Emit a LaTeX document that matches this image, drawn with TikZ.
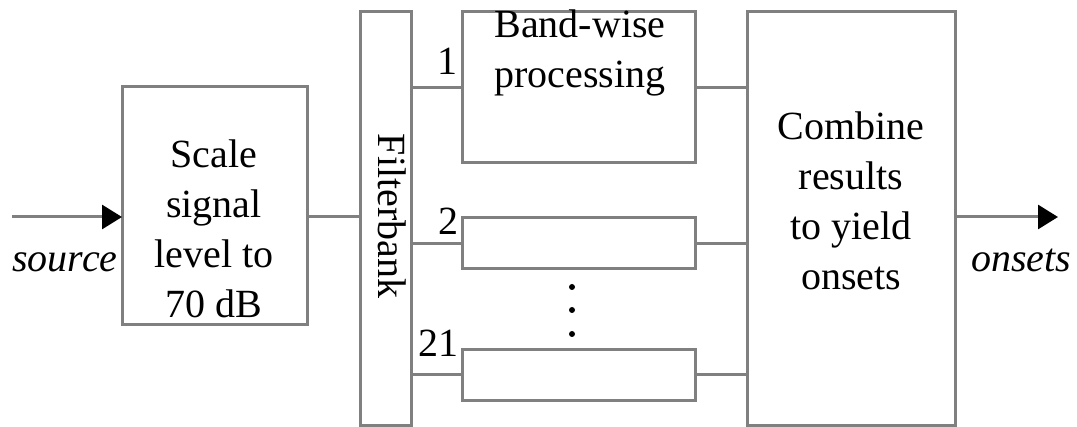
\documentclass[tikz,border=0pt]{standalone}
\usepackage{fontspec}
\setmainfont{Liberation Serif}
\usetikzlibrary{arrows.meta}
\begin{document}
\begin{tikzpicture}[x=1pt,y=-1pt,
  blk/.style={draw=black!50,line width=3pt,rectangle,inner sep=0pt,outer sep=0pt,fill=white},
  wire/.style={draw=black!50,line width=3pt},
  arr/.style={wire,-{Triangle[length=20pt,width=24pt,color=black,fill=black]}},
  txt/.style={font=\fontsize{40pt}{50pt}\selectfont,align=center,inner sep=0pt},
  lbl/.style={font=\fontsize{40pt}{50pt}\selectfont,inner sep=0pt}]
\useasboundingbox (0,0) rectangle (1077,427);
\fill[white] (0,0) rectangle (1077,427);
% boxes
\node[blk,minimum width=185pt,minimum height=238pt] (scale) at (214.5,206) {};
\node[blk,minimum width=51pt,minimum height=414pt] (fb) at (385.5,218.5) {};
\node[blk,minimum width=233pt,minimum height=151pt] (b1) at (579,87.5) {};
\node[blk,minimum width=233pt,minimum height=51pt] (b2) at (579,243.5) {};
\node[blk,minimum width=233pt,minimum height=51pt] (b21) at (579,375) {};
\node[blk,minimum width=208pt,minimum height=414pt] (comb) at (851,218.5) {};
% texts
\node[txt,anchor=base] (tscale) at (214,318) {Scale\\signal\\level to\\70 dB};
\node[txt,anchor=base] (tb1) at (580,88) {Band-wise\\processing};
\node[txt,anchor=base] (tcomb) at (851,290) {Combine\\results\\to yield\\onsets};
\node[lbl,rotate=-90] (tfb) at (392,216) {Filterbank};
\node[lbl,anchor=base east] (l1) at (458,75) {1};
\node[lbl,anchor=base east] (l2) at (459,235) {2};
\node[lbl,anchor=base east] (l21) at (459,357) {21};
\node[lbl,anchor=base,font=\fontsize{40pt}{50pt}\selectfont\itshape] (tsrc) at (65,272) {source};
\node[lbl,anchor=base,font=\fontsize{40pt}{50pt}\selectfont\itshape] (tons) at (1021,272) {onsets};
% dots
\foreach \yy [count=\i] in {287,310,334} \fill[black] (572,\yy) circle (3pt) coordinate (d\i);
% connectors
\coordinate (src) at (12,217);
\coordinate (out) at (1058,217);
\draw[arr] (src) -- (src -| scale.west);
\draw[wire] (scale.east |- src) -- (fb.west |- src);
\draw[wire] (fb.east |- b1.west) -- (b1.west);
\draw[wire] (fb.east |- b2.west) -- (b2.west);
\draw[wire] (fb.east |- b21.west) -- (b21.west);
\draw[wire] (b1.east) -- (b1.east -| comb.west);
\draw[wire] (b2.east) -- (b2.east -| comb.west);
\draw[wire] (b21.east) -- (b21.east -| comb.west);
\draw[arr] (comb.east |- out) -- (out);
\end{tikzpicture}
\end{document}
